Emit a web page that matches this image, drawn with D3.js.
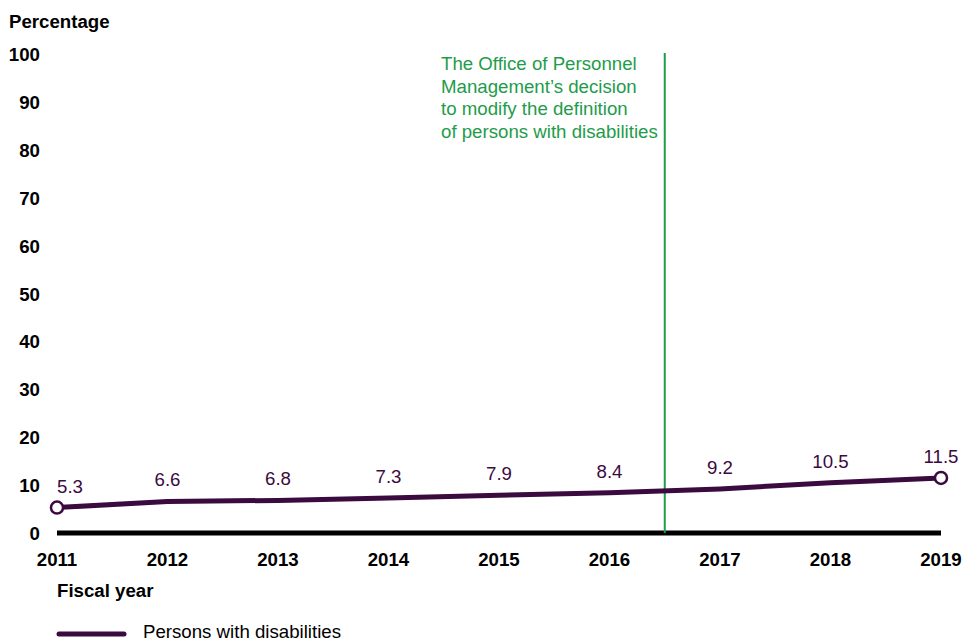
<!DOCTYPE html>
<html>
<head>
<meta charset="utf-8">
<script src="https://cdn.jsdelivr.net/npm/d3@7"></script>
<style>
  body { margin: 0; background: #fff; }
  svg { font-family: "Liberation Sans", Arial, sans-serif; }
</style>
</head>
<body>
<svg class="chart" width="965" height="642"></svg>
<script>
const years = [2011, 2012, 2013, 2014, 2015, 2016, 2017, 2018, 2019];
const pwd = [5.3, 6.6, 6.8, 7.3, 7.9, 8.4, 9.2, 10.5, 11.5];
const yTicks = [0, 10, 20, 30, 40, 50, 60, 70, 80, 90, 100];
const changeYear = 2016.5;
const noteLines = [
  'The Office of Personnel',
  'Management\u2019s decision',
  'to modify the definition',
  'of persons with disabilities',
];

const startApp = () => {
  const lineColor = '#3b0a3f';
  const green = '#1e9c4a';
  const fs = 18.67;
  const xScale = d3.scaleLinear().domain([2011, 2019]).range([57, 941]);
  const yScale = d3.scaleLinear().domain([0, 100]).range([533, 54]);
  const chart = d3.select('.chart');

  // y tick labels
  chart.append('g')
    .selectAll('text')
    .data(yTicks)
    .enter()
    .append('text')
    .attr('x', 40)
    .attr('y', d => yScale(d) + 7)
    .attr('text-anchor', 'end')
    .attr('font-size', fs)
    .attr('font-weight', 'bold')
    .text(d => d);

  chart.append('text')
    .attr('x', 9)
    .attr('y', 28)
    .attr('font-size', fs)
    .attr('font-weight', 'bold')
    .text('Percentage');

  // x axis baseline
  chart.append('line')
    .attr('x1', xScale(2011))
    .attr('x2', xScale(2019))
    .attr('y1', yScale(0))
    .attr('y2', yScale(0))
    .attr('stroke', '#000')
    .attr('stroke-width', 5);

  chart.append('g')
    .selectAll('text')
    .data(years)
    .enter()
    .append('text')
    .attr('x', xScale)
    .attr('y', 566)
    .attr('text-anchor', 'middle')
    .attr('font-size', fs)
    .attr('font-weight', 'bold')
    .text(d => d);

  chart.append('text')
    .attr('x', 57)
    .attr('y', 597)
    .attr('font-size', fs)
    .attr('font-weight', 'bold')
    .text('Fiscal year');

  // policy change marker
  chart.append('line')
    .attr('x1', xScale(changeYear))
    .attr('x2', xScale(changeYear))
    .attr('y1', yScale(100) - 1)
    .attr('y2', yScale(0))
    .attr('stroke', green)
    .attr('stroke-width', 2);

  chart.append('g')
    .selectAll('text')
    .data(noteLines)
    .enter()
    .append('text')
    .attr('x', 441)
    .attr('y', (d, i) => 70 + i * 22.7)
    .attr('font-size', fs)
    .attr('fill', green)
    .text(d => d);

  // series
  const line = d3.line()
    .x((d, i) => xScale(years[i]))
    .y(d => yScale(d));

  chart.append('path')
    .datum(pwd)
    .attr('d', line)
    .attr('fill', 'none')
    .attr('stroke', lineColor)
    .attr('stroke-width', 5);

  const last = pwd.length - 1;
  chart.append('g')
    .selectAll('circle')
    .data([0, last])
    .enter()
    .append('circle')
    .attr('cx', i => xScale(years[i]))
    .attr('cy', i => yScale(pwd[i]))
    .attr('r', 6)
    .attr('fill', '#fff')
    .attr('stroke', lineColor)
    .attr('stroke-width', 2.5);

  chart.append('g')
    .selectAll('text')
    .data(pwd)
    .enter()
    .append('text')
    .attr('x', (d, i) => xScale(years[i]) + (i === 0 ? 13 : 0))
    .attr('y', d => yScale(d) - 15)
    .attr('text-anchor', 'middle')
    .attr('font-size', fs)
    .attr('fill', lineColor)
    .text(d => d.toFixed(1));

  // legend
  chart.append('line')
    .attr('x1', 59)
    .attr('x2', 124)
    .attr('y1', 634)
    .attr('y2', 634)
    .attr('stroke', lineColor)
    .attr('stroke-width', 5)
    .attr('stroke-linecap', 'round');

  chart.append('text')
    .attr('x', 143)
    .attr('y', 638)
    .attr('font-size', fs)
    .text('Persons with disabilities');
};

window.onload = startApp;
</script>
</body>
</html>
